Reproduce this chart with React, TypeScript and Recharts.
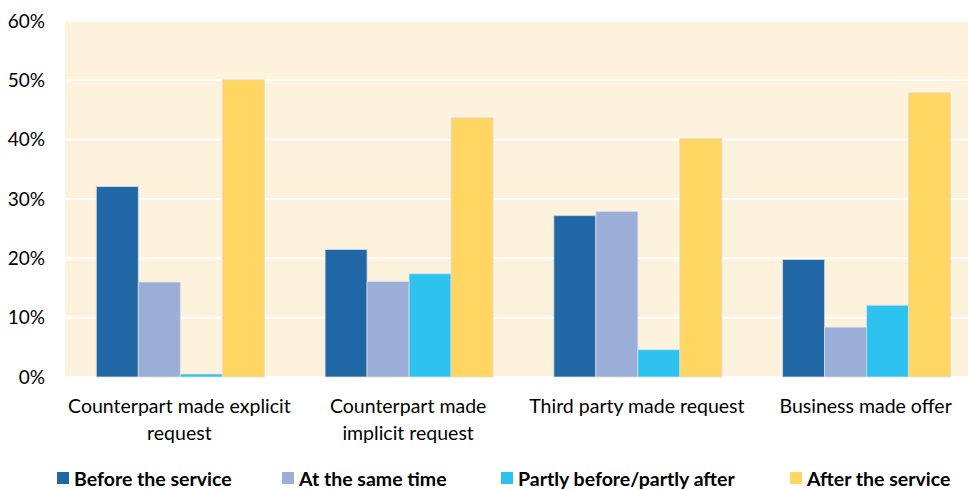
import React from 'react';
import { BarChart, Bar, XAxis, YAxis, CartesianGrid } from 'recharts';

const categories = [
  'Counterpart made explicit request',
  'Counterpart made implicit request',
  'Third party made request',
  'Business made offer',
];
// wrapped label lines as they appear under the axis
const categoryLines = [
  ['Counterpart made explicit', 'request'],
  ['Counterpart made', 'implicit request'],
  ['Third party made request'],
  ['Business made offer'],
];
const beforeService = [32.1, 21.5, 27.2, 19.8];
const sameTime = [16.0, 16.1, 27.9, 8.4];
const partly = [0.5, 17.4, 4.6, 12.1];
const afterService = [50.1, 43.7, 40.2, 47.9];
const yTicks = [0, 10, 20, 30, 40, 50, 60];

const series = [
  { key: 'before', name: 'Before the service', color: '#2166A5', legendX: 57 },
  { key: 'same', name: 'At the same time', color: '#9BAED8', legendX: 282 },
  { key: 'partly', name: 'Partly before/partly after', color: '#2EC3EF', legendX: 501 },
  { key: 'after', name: 'After the service', color: '#FED661', legendX: 790 },
];

const data = categories.map((c, i) => ({
  name: c,
  before: beforeService[i],
  same: sameTime[i],
  partly: partly[i],
  after: afterService[i],
}));

const FONT = 'Lato, "Open Sans", sans-serif';

const CategoryTick = (props: any) => {
  const { x, y, index } = props;
  const lines = categoryLines[index] || [];
  return (
    <text x={x} y={y} textAnchor="middle" fontFamily={FONT} fontSize={19.5} fill="#000">
      {lines.map((l, i) => (
        <tspan key={i} x={x} dy={i === 0 ? 34 : 27}>
          {l}
        </tspan>
      ))}
    </text>
  );
};

export default function App() {
  // the plot area runs a little past the right edge in the original, so the chart is wider and clipped
  return (
    <div
      style={{
        position: 'absolute',
        left: 0,
        top: 0,
        width: 968,
        height: 490,
        overflow: 'hidden',
        background: '#fff',
      }}
    >
      <BarChart
        width={981}
        height={490}
        data={data}
        margin={{ top: 21, right: 1, left: 0, bottom: 43 }}
        barCategoryGap="13.7%"
        barGap={0}
      >
        <CartesianGrid
          vertical={false}
          horizontal
          stroke="#ffffff"
          strokeWidth={2}
          fill="#FDF3DD"
          fillOpacity={1}
        />
        <YAxis
          width={65}
          domain={[0, 60]}
          ticks={yTicks}
          tickFormatter={(v: number) => `${v}%`}
          axisLine={false}
          tickLine={false}
          tickSize={0}
          tickMargin={20}
          tick={{ fill: '#000', fontSize: 19, fontFamily: FONT }}
        />
        <XAxis
          dataKey="name"
          height={70}
          axisLine={false}
          tickLine={false}
          tickSize={0}
          interval={0}
          tick={<CategoryTick />}
        />
        {series.map((s) => (
          <Bar
            key={s.key}
            dataKey={s.key}
            name={s.name}
            fill={s.color}
            stroke="#d8dde6"
            strokeWidth={0.8}
            isAnimationActive={false}
          />
        ))}
      </BarChart>
      {series.map((s) => (
        <div
          key={s.key}
          style={{
            position: 'absolute',
            left: s.legendX,
            top: 467,
            height: 22,
            display: 'flex',
            alignItems: 'center',
            fontFamily: FONT,
            fontWeight: 700,
            fontSize: 19.5,
            color: '#000',
            whiteSpace: 'nowrap',
          }}
        >
          <span style={{ display: 'inline-block', width: 12, height: 12, background: s.color, marginRight: 5 }} />
          {s.name}
        </div>
      ))}
    </div>
  );
}
